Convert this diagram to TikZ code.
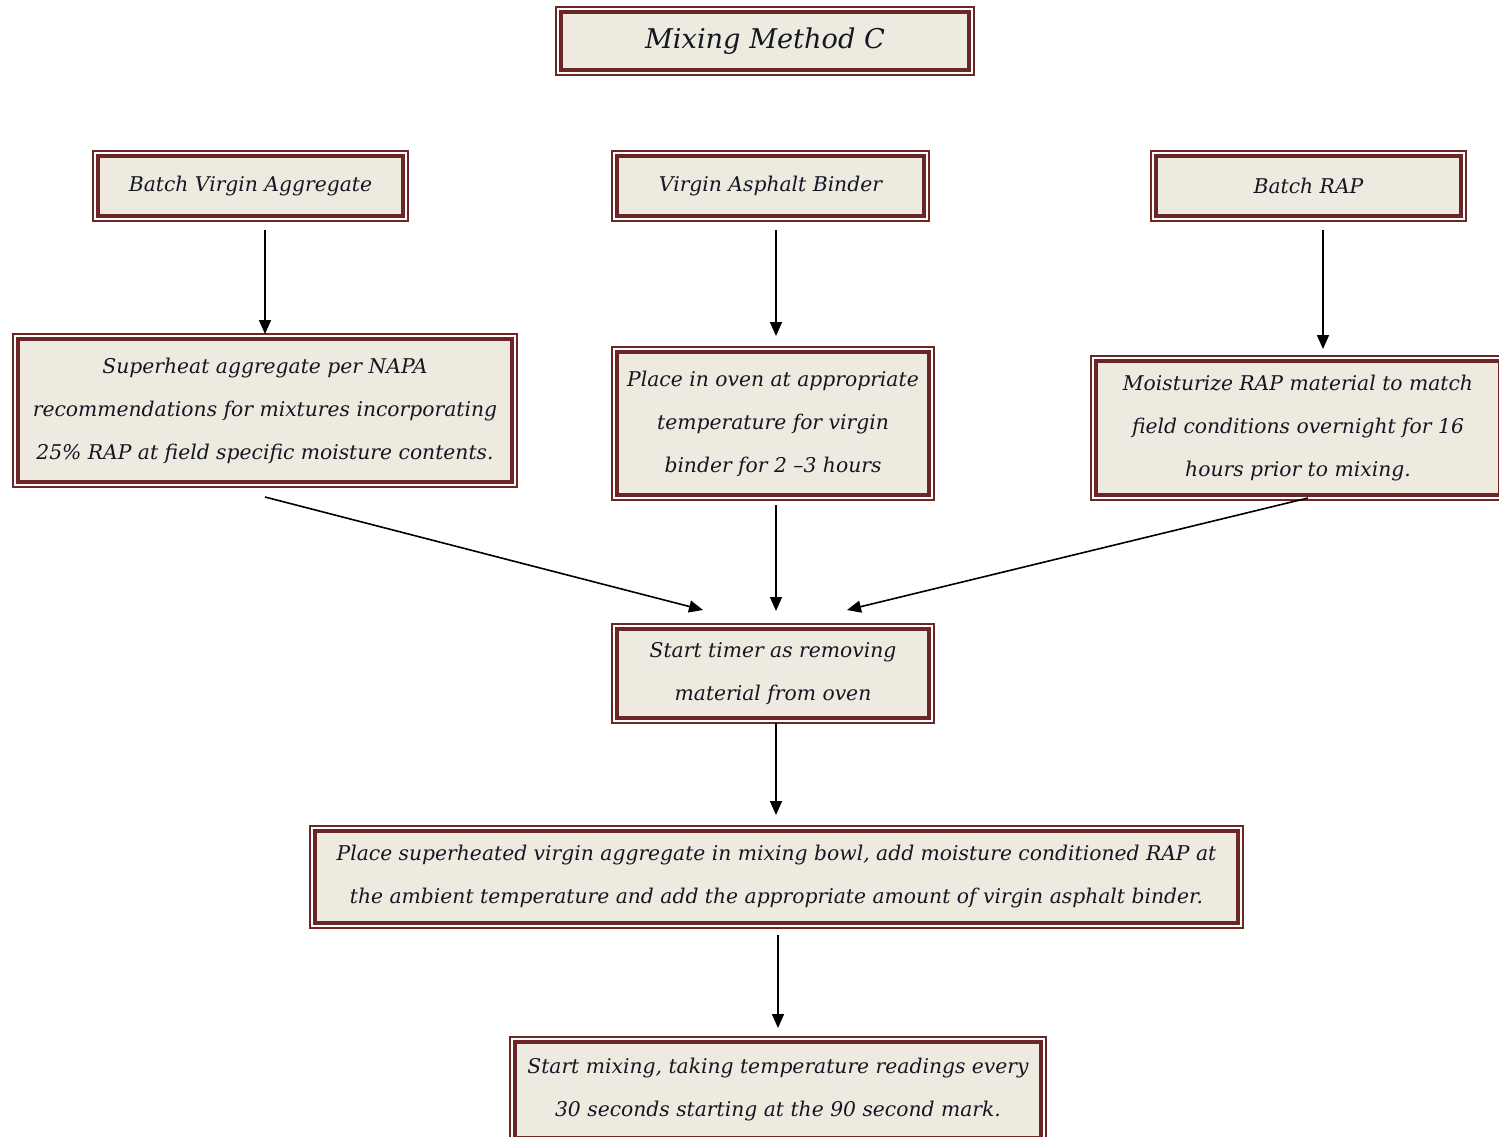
\documentclass[tikz,border=0pt]{standalone}
\usepackage{fontspec}
\setmainfont{DejaVu Serif}
\usetikzlibrary{arrows.meta,calc}
\definecolor{brd}{RGB}{108,38,38}
\definecolor{bg}{RGB}{237,234,224}
\definecolor{txt}{RGB}{22,22,34}
\begin{document}
\begin{tikzpicture}[x=1pt,y=-1pt,
  box/.style={draw=brd, line width=3.2pt, fill=bg, outer sep=0pt, inner sep=0pt, align=center, text=txt,
    font=\fontsize{20.3}{43}\selectfont\itshape},
  arr/.style={draw=black, line width=1.6pt, -{Triangle[length=14pt,width=12pt]}},
]
\useasboundingbox (0,0) rectangle (1499,1136);
\fill[white] (0,0) rectangle (1499,1136);
% nodes
\node[box, minimum width=408, minimum height=58, font=\fontsize{27.2}{34}\selectfont\itshape] (title) at (765,41) {Mixing Method C};
\node[box, minimum width=305, minimum height=60] (bva) at (250.5,186) {Batch Virgin Aggregate};
\node[box, minimum width=307, minimum height=60] (vab) at (770.5,186) {Virgin Asphalt Binder};
\node[box, minimum width=305, minimum height=60] (brap) at (1308.5,186) {Batch RAP};
\node[box, minimum width=494, minimum height=143] (sup) at (265,410.5) {Superheat aggregate per NAPA\\recommendations for mixtures incorporating\\25\% RAP at field specific moisture contents.};
\node[box, minimum width=312, minimum height=143] (oven) at (773,423.5) {Place in oven at appropriate\\temperature for virgin\\binder for 2 --3 hours};
\node[box, minimum width=404, minimum height=134] (moist) at (1298,428) {Moisturize RAP material to match\\field conditions overnight for 16\\hours prior to mixing.};
\node[box, minimum width=312, minimum height=89] (timer) at (773,673.5) {Start timer as removing\\material from oven};
\node[box, minimum width=923, minimum height=92] (mixbowl) at (776.5,877) {Place superheated virgin aggregate in mixing bowl, add moisture conditioned RAP at\\the ambient temperature and add the appropriate amount of virgin asphalt binder.};
\node[box, minimum width=526, minimum height=96] (mixing) at (778,1090) {Start mixing, taking temperature readings every\\30 seconds starting at the 90 second mark.};
% outer thin frames
\foreach \n in {title,bva,vab,brap,sup,oven,moist,timer,mixbowl,mixing}
  \draw[brd, line width=1.8pt] ([shift={(-4.8pt,-4.8pt)}]\n.south west) rectangle ([shift={(4.8pt,4.8pt)}]\n.north east);
% free ends
\coordinate (tl) at ([xshift=-70pt,yshift=19pt]timer.north);
\coordinate (tr) at ([xshift=74pt,yshift=19pt]timer.north);
\coordinate (sl) at ([yshift=-15pt]sup.south);
\coordinate (mr) at ([xshift=10pt,yshift=-3pt]moist.south);
% connectors
\draw[arr, shorten <=14pt, shorten >=5pt] (bva.south -| sup.north) -- (sup.north);
\draw[arr, shorten <=14pt, shorten >=16pt] ([xshift=5.5pt]vab.south) -- ([xshift=5.5pt]vab.south |- oven.north);
\draw[arr, shorten <=14pt, shorten >=12pt] ([xshift=14.5pt]brap.south) -- ([xshift=14.5pt]brap.south |- moist.north);
\draw[arr] (sl) -- (tl);
\draw[arr, shorten <=10pt, shorten >=18pt] ([xshift=3pt]timer.north |- oven.south) -- ([xshift=3pt]timer.north);
\draw[arr] (mr) -- (tr);
\draw[arr, shorten <=5pt, shorten >=16pt] ([xshift=3pt]timer.south) -- ([xshift=3pt]timer.south |- mixbowl.north);
\draw[arr, shorten <=12pt, shorten >=14pt] ([xshift=1.5pt]mixbowl.south) -- ([xshift=1.5pt]mixbowl.south |- mixing.north);
\end{tikzpicture}
\end{document}
